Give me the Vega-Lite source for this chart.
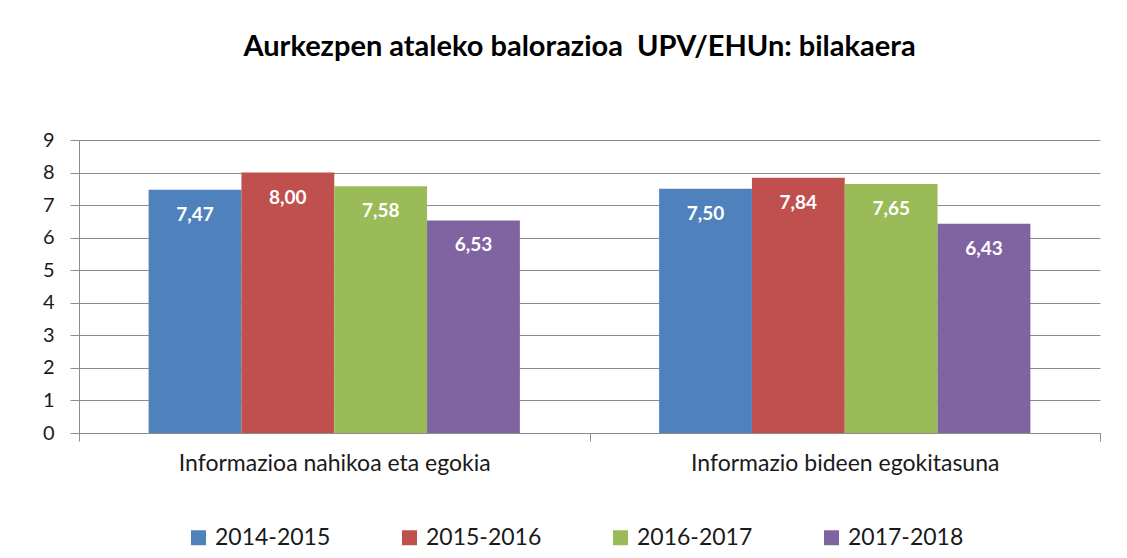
{
  "$schema": "https://vega.github.io/schema/vega-lite/v6.json",
  "width": 1021,
  "height": 293,
  "autosize": {"type": "none"},
  "padding": {"left": 79, "top": 140, "right": 27, "bottom": 125},
  "background": "white",
  "config": {
    "locale": {"number": {"decimal": ",", "thousands": ".", "grouping": [3], "currency": ["", " €"]}},
    "font": "Lato",
    "view": {"stroke": null}
  },
  "title": {
    "text": "Aurkezpen ataleko balorazioa\u00a0 UPV/EHUn: bilakaera",
    "fontSize": 29,
    "fontWeight": "bold",
    "font": "Lato",
    "color": "#000000",
    "anchor": "middle",
    "dx": -10,
    "offset": 68
  },
  "data": {
    "values": [
      {"categoria": "Informazioa nahikoa eta egokia", "urtea": "2014-2015", "balioa": 7.47},
      {"categoria": "Informazioa nahikoa eta egokia", "urtea": "2015-2016", "balioa": 8.00},
      {"categoria": "Informazioa nahikoa eta egokia", "urtea": "2016-2017", "balioa": 7.58},
      {"categoria": "Informazioa nahikoa eta egokia", "urtea": "2017-2018", "balioa": 6.53},
      {"categoria": "Informazio bideen egokitasuna", "urtea": "2014-2015", "balioa": 7.50},
      {"categoria": "Informazio bideen egokitasuna", "urtea": "2015-2016", "balioa": 7.84},
      {"categoria": "Informazio bideen egokitasuna", "urtea": "2016-2017", "balioa": 7.65},
      {"categoria": "Informazio bideen egokitasuna", "urtea": "2017-2018", "balioa": 6.43}
    ]
  },
  "encoding": {
    "x": {
      "field": "categoria",
      "type": "nominal",
      "sort": null,
      "scale": {"paddingInner": 0, "paddingOuter": 0},
      "axis": {
        "title": null,
        "labelAngle": 0,
        "tickBand": "extent",
        "tickSize": 8,
        "tickColor": "#8C8C8C",
        "domainColor": "#8C8C8C",
        "labelFontSize": 23,
        "labelColor": "#1A1A1A",
        "labelPadding": 11,
        "labelLimit": 600,
        "grid": false
      }
    },
    "xOffset": {
      "field": "urtea",
      "type": "nominal",
      "sort": null,
      "scale": {"paddingInner": 0, "paddingOuter": 0.75}
    },
    "y": {
      "field": "balioa",
      "type": "quantitative",
      "scale": {"domain": [0, 9], "nice": false},
      "axis": {
        "title": null,
        "values": [0, 1, 2, 3, 4, 5, 6, 7, 8, 9],
        "format": "d",
        "grid": true,
        "gridColor": "#8C8C8C",
        "domainColor": "#8C8C8C",
        "tickColor": "#8C8C8C",
        "tickSize": 9,
        "labelFontSize": 20,
        "labelColor": "#1A1A1A",
        "labelPadding": 16
      }
    }
  },
  "layer": [
    {
      "mark": {"type": "bar"},
      "encoding": {
        "color": {
          "field": "urtea",
          "type": "nominal",
          "sort": null,
          "scale": {"range": ["#4F81BD", "#C0504D", "#9BBB59", "#8064A2"]},
          "legend": {
            "title": null,
            "orient": "none",
            "direction": "horizontal",
            "legendX": 108,
            "legendY": 386,
            "symbolType": "square",
            "symbolSize": 225,
            "symbolStrokeWidth": 0,
            "labelFontSize": 23,
            "labelColor": "#1A1A1A",
            "labelOffset": 5,
            "columnPadding": 67
          }
        }
      }
    },
    {
      "mark": {"type": "text", "dy": 25, "color": "white", "fontWeight": "bold", "fontSize": 19, "baseline": "middle"},
      "encoding": {
        "text": {"field": "balioa", "type": "quantitative", "format": ".2f"}
      }
    }
  ]
}
